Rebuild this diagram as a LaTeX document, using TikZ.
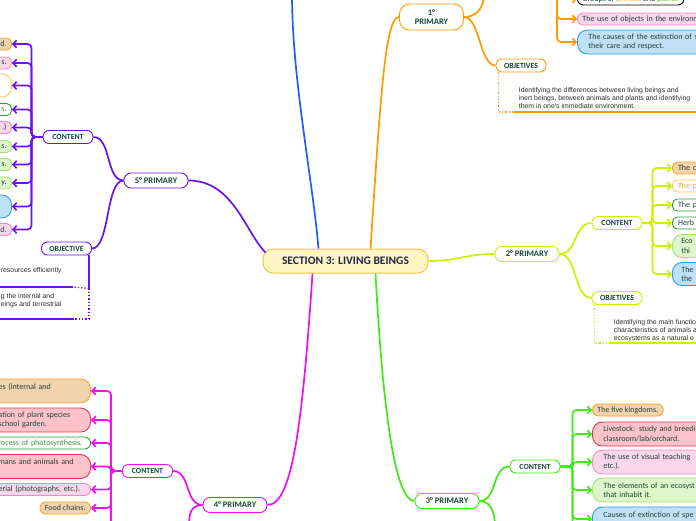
\documentclass[tikz,border=0pt]{standalone}
\usepackage{fontspec}
\setmainfont{Carlito}
\newfontfamily\objfont{Liberation Sans}
\usetikzlibrary{arrows.meta}

\definecolor{hubFill}{HTML}{FFF5C4}
\definecolor{hubLine}{HTML}{F5C342}
\definecolor{hubText}{HTML}{1C2A4A}
\definecolor{nodeText}{HTML}{1A4436}
\definecolor{objGray}{HTML}{2E2E2E}
\definecolor{cBlue}{HTML}{1F5BFF}
\definecolor{cOrange}{HTML}{FF9A00}
\definecolor{cLime}{HTML}{C8F200}
\definecolor{cGreen}{HTML}{3DEB10}
\definecolor{cMagenta}{HTML}{EE10EE}
\definecolor{cPurple}{HTML}{6A12EE}
\definecolor{tanF}{HTML}{F2D3AE}
\definecolor{tanD}{HTML}{F4A52C}
\definecolor{pinkF}{HTML}{F9D6E9}
\definecolor{pinkD}{HTML}{F08AC8}
\definecolor{redF}{HTML}{FFC2CB}
\definecolor{redD}{HTML}{D63A50}
\definecolor{grnD}{HTML}{2E9B3E}
\definecolor{grnT}{HTML}{2E9B3E}
\definecolor{yelD}{HTML}{FFC648}
\definecolor{orgT}{HTML}{F5A623}
\definecolor{ltgT}{HTML}{6DBF30}
\definecolor{limeF}{HTML}{DDF6CA}
\definecolor{limeD}{HTML}{A6E36E}
\definecolor{blueF}{HTML}{C0E0F6}
\definecolor{blueD}{HTML}{2B9BF2}

\begin{document}
\begin{tikzpicture}[x=1pt,y=-1pt,line width=1.7pt,
hub/.style={draw=hubLine,fill=hubFill,line width=1pt,rounded corners=10pt,minimum width=165,minimum height=24,font=\fontsize{11.5}{13}\selectfont\bfseries,text=hubText},
prim/.style={draw,fill=white,line width=0.9pt,rounded corners=7pt,minimum width=64,minimum height=15,inner sep=1pt,font=\fontsize{8.5}{9}\selectfont\bfseries,text=nodeText},
part/.style={draw,fill=white,line width=0.9pt,rounded corners=6pt,minimum width=50,minimum height=13,inner sep=1pt,font=\fontsize{7.8}{8}\selectfont\bfseries,text=nodeText},
item/.style={line width=0.9pt,rounded corners=6pt,minimum height=12,inner xsep=5pt,inner ysep=1pt,align=left,font=\fontsize{8}{9.3}\selectfont,text=nodeText},
tall/.style={minimum height=24,rounded corners=10pt,inner xsep=11pt},
arr/.style={-{Straight Barb[length=3.5pt,width=7.5pt]},rounded corners=4pt},
objtext/.style={anchor=west,align=left,inner sep=0pt,text=objGray,font=\objfont\fontsize{6.9}{8.2}\selectfont}
]
\useasboundingbox (0,0) rectangle (696,520);
\clip (0,0) rectangle (696,520);

\node[hub] (hub) at (345.5,261) {SECTION 3: LIVING BEINGS};

\node[prim,draw=cOrange,align=center,minimum height=26,rounded corners=10pt,font=\fontsize{8.5}{9.5}\selectfont\bfseries] (p1) at (431.5,17) {1°\\PRIMARY};
\node[prim,draw=cLime] (p2) at (527,254) {2° PRIMARY};
\node[prim,draw=cGreen] (p3) at (447,501) {3° PRIMARY};
\node[prim,draw=cMagenta] (p4) at (235,505) {4° PRIMARY};
\node[prim,draw=cPurple] (p5) at (156,180.5) {5° PRIMARY};

\node[part,draw=cOrange] (o1) at (521,65.5) {OBJETIVES};
\node[part,draw=cLime] (c2) at (617,223) {CONTENT};
\node[part,draw=cLime] (o2) at (617,298) {OBJETIVES};
\node[part,draw=cGreen] (c3) at (535,466.5) {CONTENT};
\node[part,draw=cMagenta] (c4) at (147.5,471) {CONTENT};
\node[part,draw=cPurple] (c5) at (68,137) {CONTENT};
\node[part,draw=cPurple] (o5) at (66.5,248.5) {OBJECTIVE};

\coordinate (topB) at (292,-6);
\coordinate (topC1) at (484,-6);
\coordinate (c1) at (557,-20);
\coordinate (low3) at (495,526);
\coordinate (low4) at (189,526);

% main branches
\draw[cBlue] ([xshift=-27]hub.north) .. controls +(-6,-70) and +(0,85) .. (topB);
\draw[cOrange] ([xshift=25]hub.north) .. controls +(10,-150) and +(-14,0) .. (p1.west);
\draw[cPurple] ([shift={(3,4)}]hub.north west) .. controls +(-20,-20) and +(45,0) .. (p5.east);
\draw[cLime] (hub.east) .. controls +(30,0) and +(-30,0) .. (p2.west);
\draw[cMagenta] ([xshift=-33]hub.south) .. controls +(-10,150) and +(25,0) .. (p4.east);
\draw[cGreen] ([xshift=30]hub.south) .. controls +(8,150) and +(-18,0) .. (p3.west);

\draw[cOrange] (p1.east) .. controls +(16,0) and +(-16,0) .. (o1.west);
\draw[cOrange] (p1.east) .. controls +(14,0) and +(0,12) .. (topC1);
\draw[cLime] (p2.east) .. controls +(18,0) and +(-18,0) .. (c2.west);
\draw[cLime] (p2.east) .. controls +(18,0) and +(-18,0) .. (o2.west);
\draw[cGreen] (p3.east) .. controls +(18,0) and +(-18,0) .. (c3.west);
\draw[cGreen] (p3.east) .. controls +(12,0) and +(0,-12) .. (low3);
\draw[cMagenta] (p4.west) .. controls +(-18,0) and +(18,0) .. (c4.east);
\draw[cMagenta] (p4.west) .. controls +(-12,0) and +(0,-12) .. (low4);
\draw[cPurple] (p5.west) .. controls +(-18,0) and +(18,0) .. (c5.east);
\draw[cPurple] (p5.west) .. controls +(-18,0) and +(18,0) .. (o5.east);

% 1 primary
\node[item,fill=white,draw=black,anchor=west] (i11) at (577,-1) {Groups of \textcolor{orgT}{animals} and \textcolor{ltgT}{plants.}};
\node[item,fill=pinkF,draw=pinkD,anchor=west,text width=130] (i12) at (577,19) {The use of objects in the environm};
\node[item,tall,fill=blueF,draw=blueD,anchor=west,text width=130] (i13) at (577,42) {The causes of the extinction of s\\their care and respect.};
\foreach \k in {1,2,3}
\draw[arr,cOrange] (c1) |- (i1\k.west);

\node[objtext] (t1) at (518,98) {Identifying the differences between living beings and\\inert beings, between animals and plants and identifying\\them in one's immediate environment.};
\coordinate (u1) at (514,112);
\draw[cOrange,line width=1.3pt,dotted] ([xshift=3]o1.south west) |- (u1);
\draw[cOrange,line width=1.3pt] (u1) -- (700,112);

% 2 primary
\foreach \k/\y/\f/\d/\h/\c/\t in {1/168/tanF/tanD/12/nodeText/The c,2/186/white/yelD/12/orgT/The p,3/205/white/grnD/12/nodeText/The p,4/223/white/grnD/12/nodeText/Herb,5/246/limeF/limeD/23/nodeText/{Eco\\thi},6/274/blueF/blueD/23/nodeText/{The\\the}}
{
\node[item,fill=\f,draw=\d,text=\c,minimum height=\h,rounded corners=\h*0.42,inner xsep=\h*0.3+2,anchor=west,text width=40] (i2\k) at (672,\y) {\t};
\draw[arr,cLime] (c2.east) -- ++(10,0) |- (i2\k.west);
}
\node[objtext] (t2) at (613,331) {Identifying the main functio\\characteristics of animals a\\ecosystems as a natural e};
\coordinate (u2) at (610,343);
\draw[cLime,line width=1.3pt,dotted] ([xshift=3]o2.south west) |- (u2);
\draw[cLime,line width=1.3pt] (u2) -- (700,343);

% 3 primary
\node[item,fill=tanF,draw=tanD,anchor=west] (i31) at (592,410) {The five kingdoms.};
\node[item,tall,fill=redF,draw=redD,anchor=west,text width=130] (i32) at (592,434) {Livestock: study and breedi\\classroom/lab/orchard.};
\node[item,tall,fill=pinkF,draw=pinkD,anchor=west,text width=130] (i33) at (592,462) {The use of visual teaching\\etc.).};
\node[item,tall,fill=limeF,draw=limeD,anchor=west,text width=130] (i34) at (592,490) {The elements of an ecosyst\\that inhabit it.};
\node[item,tall,fill=blueF,draw=blueD,anchor=west,text width=130] (i35) at (592,519) {Causes of extinction of spe\\\mbox{}};
\foreach \k in {1,...,5}
\draw[arr,cGreen] (c3.east) -- ++(12,0) |- (i3\k.west);
\draw[cGreen,rounded corners=4pt] (c3.east) -- ++(12,0) -- ++(0,70);

% 4 primary
\node[item,tall,fill=tanF,draw=tanD,anchor=east,text width=81] (i41) at (91,391) {es (internal and\\\mbox{}};
\node[item,tall,fill=redF,draw=redD,anchor=east,text width=81] (i42) at (91,420) {ation of plant species\\school garden.};
\node[item,fill=white,draw=grnD,text=grnT,anchor=east,text width=87] (i43) at (91,443) {rocess of photosynthesis.};
\node[item,tall,fill=redF,draw=redD,anchor=east,text width=81] (i44) at (91,466.5) {mans and animals and\\\mbox{}};
\node[item,fill=pinkF,draw=pinkD,anchor=east,text width=87] (i45) at (91,489.5) {erial (photographs, etc.).};
\node[item,fill=tanF,draw=tanD,anchor=east] (i46) at (91,508) {Food chains.};
\foreach \k in {1,...,6}
\draw[arr,cMagenta] (c4.west) -- ++(-11,0) |- (i4\k.east);
\draw[cMagenta] (c4.west) -- ++(-11,0) -- ++(0,70);

% 5 primary
\foreach \k/\y/\f/\d/\h/\c/\t in {1/44/tanF/tanD/12/nodeText/d.,2/63/pinkF/pinkD/12/nodeText/s.,3/85.5/white/yelD/23/nodeText/{},4/109.5/white/grnD/12/grnT/s.,5/127.5/pinkF/pinkD/12/nodeText/.),6/146.5/limeF/limeD/12/nodeText/s.,7/164.5/limeF/limeD/12/nodeText/s.,8/183/limeF/limeD/12/nodeText/y.,9/206.5/blueF/blueD/23/nodeText/{},10/229.5/pinkF/pinkD/12/nodeText/d.}
{
\node[item,fill=\f,draw=\d,text=\c,minimum height=\h,rounded corners=\h*0.42,anchor=east,text width=40,align=right] (i5\k) at (12,\y) {\t};
\draw[arr,cPurple] (c5.west) -- ++(-11,0) |- (i5\k.east);
}
\node[objtext] (t51) at (0,271) {resources efficiently};
\node[objtext] (t52) at (0,300.5) {g the internal and\\eings and terrestrial};
\coordinate (u51) at (73,287);
\coordinate (u52) at (73,319);
\draw[cPurple,line width=1.3pt] ([xshift=-3]o5.south east) -- ++(0,33);
\draw[cPurple,line width=1.3pt,dotted] ([xshift=-3]o5.south east) ++(0,33) -- (u51);
\draw[cPurple,line width=1.3pt,dotted] ([xshift=-3]o5.south east) ++(0,33) |- (u52);
\draw[cPurple,line width=1.3pt] (u51) -- (-5,287);
\draw[cPurple,line width=1.3pt] (u52) -- (-5,319);
\end{tikzpicture}
\end{document}
